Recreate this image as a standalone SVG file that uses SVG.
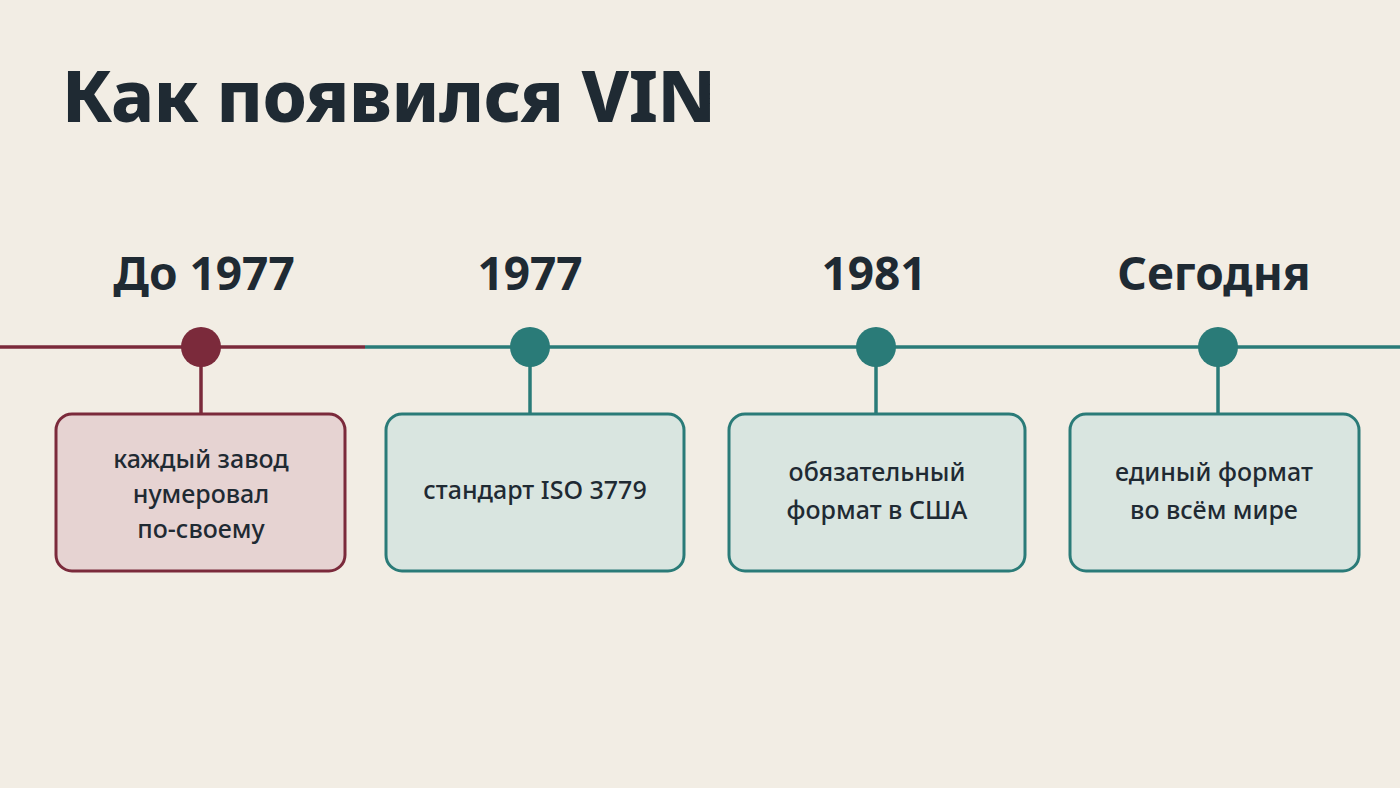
<svg xmlns="http://www.w3.org/2000/svg" width="1400" height="788" viewBox="0 0 1400 788">
<style>
.t{font-family:"Noto Sans","Open Sans",sans-serif;fill:#1f2a33}
.yr{font-size:46px;font-weight:700;text-anchor:middle}
.bx{font-size:25px;font-weight:500;text-anchor:middle}
.red{stroke:#7b2a3b;stroke-width:3.5}
.teal{stroke:#2a7b78;stroke-width:3.5}
.rbox{fill:#e6d3d2;stroke:#7b2a3b;stroke-width:3}
.tbox{fill:#d9e5e0;stroke:#2a7b78;stroke-width:3}
</style>
<rect width="1400" height="788" fill="#f2ede4"/>
<text class="t" x="62" y="122" font-size="71" font-weight="800" textLength="654">Как появился VIN</text>
<g id="connectors">
<line class="red" x1="0" y1="347" x2="365" y2="347"/>
<line class="teal" x1="365" y1="347" x2="1400" y2="347"/>
<line class="red" x1="201" y1="347" x2="201" y2="414"/>
<line class="teal" x1="530" y1="347" x2="530" y2="414"/>
<line class="teal" x1="876" y1="347" x2="876" y2="414"/>
<line class="teal" x1="1218" y1="347" x2="1218" y2="414"/>
</g>
<g id="n1">
<text class="t yr" x="204" y="290">До 1977</text>
<circle cx="201" cy="347" r="20" fill="#7b2a3b"/>
<rect class="rbox" x="56" y="414" width="289" height="157" rx="16"/>
<text class="t bx" x="201" y="468">каждый завод</text>
<text class="t bx" x="201" y="503">нумеровал</text>
<text class="t bx" x="201" y="538">по-своему</text>
</g>
<g id="n2">
<text class="t yr" x="530" y="290">1977</text>
<circle cx="530" cy="347" r="20" fill="#2a7b78"/>
<rect class="tbox" x="386" y="414" width="298" height="157" rx="16"/>
<text class="t bx" x="535" y="499">стандарт ISO 3779</text>
</g>
<g id="n3">
<text class="t yr" x="874" y="290">1981</text>
<circle cx="876" cy="347" r="20" fill="#2a7b78"/>
<rect class="tbox" x="729" y="414" width="296" height="157" rx="16"/>
<text class="t bx" x="877" y="481">обязательный</text>
<text class="t bx" x="877" y="519">формат в США</text>
</g>
<g id="n4">
<text class="t yr" x="1214" y="290">Сегодня</text>
<circle cx="1218" cy="347" r="20" fill="#2a7b78"/>
<rect class="tbox" x="1070" y="414" width="289" height="157" rx="16"/>
<text class="t bx" x="1214" y="481">единый формат</text>
<text class="t bx" x="1214" y="519">во всём мире</text>
</g>
</svg>
